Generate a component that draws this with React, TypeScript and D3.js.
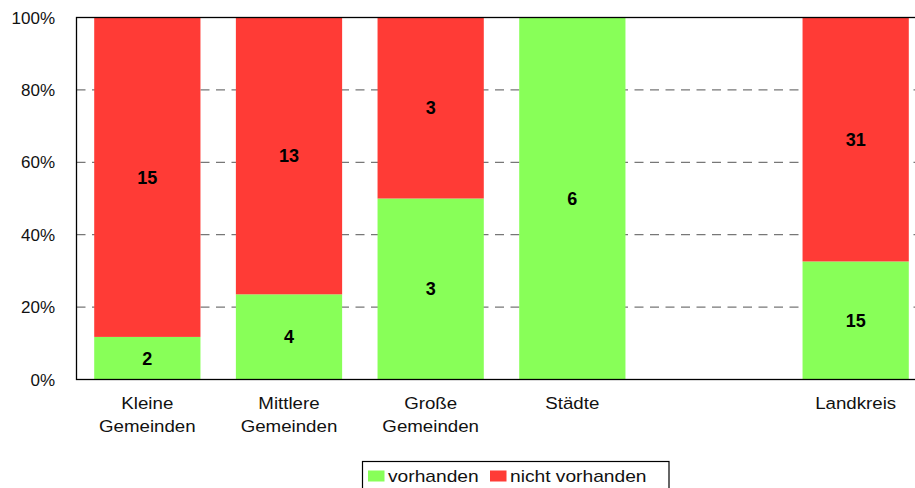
import React from "react";
import * as d3 from "d3";

const categories = ["Kleine\nGemeinden", "Mittlere\nGemeinden", "Große\nGemeinden", "Städte", "", "Landkreis"];
const vorhanden = [2, 4, 3, 6, null, 15];
const nichtVorhanden = [15, 13, 3, 0, null, 31];
const yTicks = [0, 0.2, 0.4, 0.6, 0.8, 1];
const seriesNames = ["vorhanden", "nicht vorhanden"];
const colors = ["#88FF58", "#FF3B36"];

const W = 915, H = 488;
const left = 76.5, top = 17.5, bottom = 379.5;
const plotW = 850;

export default function App() {
  const x = d3.scaleBand<number>().domain(d3.range(categories.length)).range([left, left + plotW]).paddingInner(0.25).paddingOuter(0.125);
  const y = d3.scaleLinear().domain([0, 1]).range([bottom, top]);
  const font = "Arial, 'Liberation Sans', Helvetica, sans-serif";

  const bars: JSX.Element[] = [];
  categories.forEach((c, i) => {
    const v = vorhanden[i], n = nichtVorhanden[i];
    if (v == null || n == null) return;
    const tot = v + n;
    const segs = [
      { val: v, y0: 0, y1: v / tot, color: colors[0] },
      { val: n, y0: v / tot, y1: 1, color: colors[1] },
    ];
    segs.forEach((s, j) => {
      if (s.val <= 0) return;
      bars.push(
        <rect key={`r${i}-${j}`} x={x(i)} y={y(s.y1)} width={x.bandwidth()} height={y(s.y0) - y(s.y1)} fill={s.color} />
      );
      const cx = x(i)! + x.bandwidth() / 2;
      const cy = (y(s.y0) + y(s.y1)) / 2;
      bars.push(
        <text key={`t${i}-${j}`} x={cx} y={cy} dy="0.36em" textAnchor="middle" fontFamily={font} fontWeight="bold" fontSize={18} fill="#000">
          {s.val}
        </text>
      );
    });
  });

  return (
    <svg width={W} height={H} style={{ position: "fixed", left: 0, top: 0, background: "#fff" }}>
      <rect x={0} y={0} width={W} height={H} fill="#fff" />
      {yTicks.filter(t => t > 0 && t < 1).map(t => (
        <line key={`g${t}`} x1={left} x2={left + plotW} y1={y(t)} y2={y(t)} stroke="#777" strokeWidth={1.3} strokeDasharray="9,6.5" />
      ))}
      {bars}
      <rect x={left} y={top} width={plotW} height={bottom - top} fill="none" stroke="#000" strokeWidth={1.3} />
      {yTicks.map(t => (
        <text key={`y${t}`} x={55} y={y(t)} dy="0.36em" textAnchor="end" fontFamily={font} fontSize={17} fill="#111">
          {d3.format(".0%")(t)}
        </text>
      ))}
      {categories.map((c, i) => {
        const cx = x(i)! + x.bandwidth() / 2;
        return c.split("\n").map((line, k) => (
          <text key={`c${i}-${k}`} transform={`translate(${cx},${409 + k * 22.5}) scale(1.1,1)`} textAnchor="middle" fontFamily={font} fontSize={17} fill="#111">
            {line}
          </text>
        ));
      })}
      <rect x={362.5} y={461.5} width={306.5} height={30} fill="#fff" stroke="#000" strokeWidth={1.2} />
      <rect x={368} y={470.5} width={16.5} height={11} fill={colors[0]} />
      <text transform={`translate(388,481.5) scale(1.2,1)`} fontFamily={font} fontSize={16} fill="#111">{seriesNames[0]}</text>
      <rect x={490} y={470.5} width={16.5} height={11} fill={colors[1]} />
      <text transform={`translate(510,481.5) scale(1.2,1)`} fontFamily={font} fontSize={16} fill="#111">{seriesNames[1]}</text>
    </svg>
  );
}
